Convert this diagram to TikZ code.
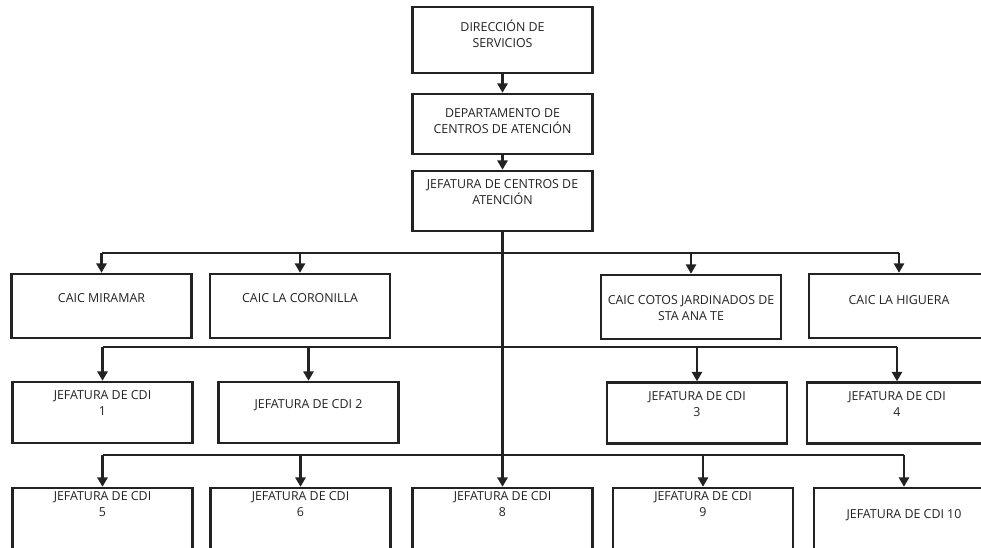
\documentclass[tikz,border=0pt]{standalone}
\usepackage{fontspec}
\setmainfont{Open Sans}
\usetikzlibrary{arrows.meta}

\definecolor{ink}{RGB}{34,34,34}
\tikzset{every picture/.style={line width=0.75pt}}

\begin{document}
\begin{tikzpicture}[x=0.75pt,y=0.75pt,yscale=-1,xscale=1,
  box/.style={draw=ink, line width=1.8pt, minimum width=135pt, inner sep=0pt},
  lbl/.style={font=\fontsize{9.3}{12}\selectfont, align=center, text=ink, inner sep=0pt},
  link/.style={draw=ink, line width=1.8pt},
  flecha/.style={link, -{Triangle[length=7pt,width=7.5pt]}}]
\useasboundingbox (0,0) rectangle (981,548);
\clip (0,0) rectangle (981,548);

%Shape: Rectangle [top]
\node[box, minimum height=49.5pt] (dir) at (502.5,40) {};
\node[box, minimum height=45pt] (dep) at (502.5,124) {};
\node[box, minimum height=45pt] (jefc) at (502.5,201) {};

%Shape: Rectangle [CAIC]
\node[box, minimum height=48pt] (caicA) at (101.5,306) {};
\node[box, minimum height=48pt] (caicB) at (300,306) {};
\node[box, minimum height=48pt] (caicC) at (691,307) {};
\node[box, minimum height=48pt] (caicD) at (899,306) {};

%Shape: Rectangle [CDI 1-4]
\node[box, minimum height=45.75pt] (cdiA) at (102.5,412.5) {};
\node[box, minimum height=45.75pt] (cdiB) at (308.5,412.5) {};
\node[box, minimum height=45.75pt] (cdiC) at (697,413) {};
\node[box, minimum height=45.75pt] (cdiD) at (897,413) {};

%Shape: Rectangle [CDI 5-10]
\node[box, minimum height=46.5pt] (cdiE) at (102.5,519) {};
\node[box, minimum height=46.5pt] (cdiF) at (300.5,519) {};
\node[box, minimum height=46.5pt] (cdiG) at (502.5,519) {};
\node[box, minimum height=46.5pt] (cdiH) at (703,519) {};
\node[box, minimum height=46.5pt] (cdiI) at (904,519) {};

%Straight Lines [vertical]
\draw[flecha] (dir.south) -- (dep.north);
\draw[flecha] (dep.south) -- (jefc.north);
\draw[flecha] (jefc.south) -- (cdiG.north);

%Straight Lines [CAIC]
\coordinate (busA) at (502.5,253);
\draw[link] (caicA.north |- busA) -- (caicD.north |- busA);
\draw[flecha] (caicA.north |- busA) -- (caicA.north);
\draw[flecha] (caicB.north |- busA) -- (caicB.north);
\draw[flecha] (caicC.north |- busA) -- (caicC.north);
\draw[flecha] (caicD.north |- busA) -- (caicD.north);

%Straight Lines [CDI 1-4]
\coordinate (busB) at (502.5,347);
\draw[link] (cdiA.north |- busB) -- (cdiD.north |- busB);
\draw[flecha] (cdiA.north |- busB) -- (cdiA.north);
\draw[flecha] (cdiB.north |- busB) -- (cdiB.north);
\draw[flecha] (cdiC.north |- busB) -- (cdiC.north);
\draw[flecha] (cdiD.north |- busB) -- (cdiD.north);

%Straight Lines [CDI 5-10]
\coordinate (busC) at (502.5,455);
\draw[link] (cdiE.north |- busC) -- (cdiI.north |- busC);
\draw[flecha] (cdiE.north |- busC) -- (cdiE.north);
\draw[flecha] (cdiF.north |- busC) -- (cdiF.north);
\draw[flecha] (cdiH.north |- busC) -- (cdiH.north);
\draw[flecha] (cdiI.north |- busC) -- (cdiI.north);

% Text Node
\node[lbl] (dirT) at (502.5,33.5) {DIRECCIÓN DE\\SERVICIOS};
% Text Node
\node[lbl] (depT) at (502.5,121.5) {DEPARTAMENTO DE\\CENTROS DE ATENCIÓN};
% Text Node
\node[lbl] (jefcT) at (502.5,192.5) {JEFATURA DE CENTROS DE\\ATENCIÓN};
% Text Node
\node[lbl] (caicAT) at (101.5,298) {CAIC MIRAMAR};
% Text Node
\node[lbl] (caicBT) at (300,298) {CAIC LA CORONILLA};
% Text Node
\node[lbl] (caicCT) at (691,308.5) {CAIC COTOS JARDINADOS DE\\STA ANA TE};
% Text Node
\node[lbl] (caicDT) at (899,300) {CAIC LA HIGUERA};
% Text Node
\node[lbl] (cdiAT) at (102.5,403.5) {JEFATURA DE CDI\\1};
% Text Node
\node[lbl] (cdiBT) at (308.5,405) {JEFATURA DE CDI 2};
% Text Node
\node[lbl] (cdiCT) at (697,404) {JEFATURA DE CDI\\3};
% Text Node
\node[lbl] (cdiDT) at (897,404) {JEFATURA DE CDI\\4};
% Text Node
\node[lbl] (cdiET) at (102.5,504) {JEFATURA DE CDI\\5};
% Text Node
\node[lbl] (cdiFT) at (300.5,504) {JEFATURA DE CDI\\6};
% Text Node
\node[lbl] (cdiGT) at (502.5,504) {JEFATURA DE CDI\\8};
% Text Node
\node[lbl] (cdiHT) at (703,504) {JEFATURA DE CDI\\9};
% Text Node
\node[lbl] (cdiIT) at (904,515) {JEFATURA DE CDI 10};

\end{tikzpicture}
\end{document}
